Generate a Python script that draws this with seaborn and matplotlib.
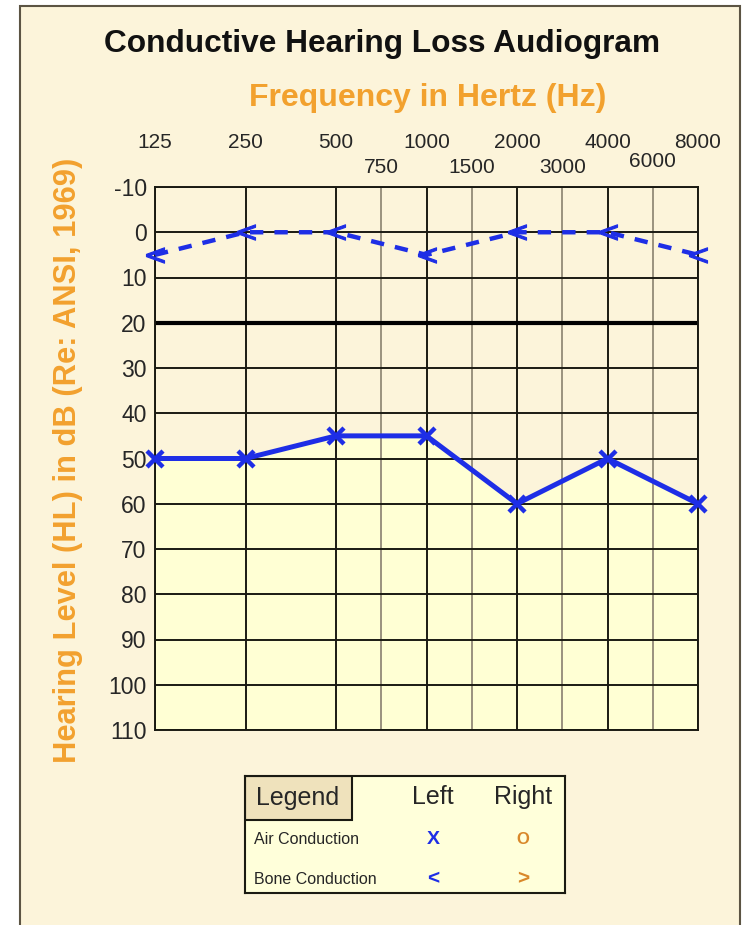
import numpy as np
import pandas as pd
import matplotlib
matplotlib.use('Agg')
import matplotlib.pyplot as plt
import matplotlib.transforms as transforms
from matplotlib.patches import Rectangle
import seaborn as sns

# audiogram data: left ear, positions are octave slots (125 Hz = 0)
octave_labels = ['125', '250', '500', '1000', '2000', '4000', '8000']
mid_labels = ['750', '1500', '3000', '6000']
octave_pos = [0, 1, 2, 3, 4, 5, 6]
mid_pos = [2.5, 3.5, 4.5, 5.5]
air_left = [50, 50, 45, 45, 60, 50, 60]
bone_left = [5, 0, 0, 5, 0, 0, 5]
db_ticks = list(range(-10, 111, 10))

cream = '#FCF4DA'
yellow = '#FFFFD4'
orange = '#F2A12E'
blue = '#1E2EE6'


def draw():
    sns.set_style('white')
    plt.rcParams['font.family'] = ['Liberation Sans', 'DejaVu Sans']

    df = pd.DataFrame({'pos': octave_pos, 'air': air_left, 'bone': bone_left})

    fig = plt.figure(figsize=(7.42, 9.25), dpi=100, facecolor='white')
    fig.patches.append(Rectangle((20 / 742, -0.05), 720 / 742, 1.05 - 6 / 925,
                                 transform=fig.transFigure, facecolor=cream,
                                 edgecolor='#5C5443', lw=1.5, zorder=-10))

    ax = fig.add_axes([155 / 742, 1 - 730 / 925, 543 / 742, 543 / 925])
    ax.set_zorder(2)
    ax.set_facecolor(cream)

    ax.fill_between(df['pos'], df['air'], 110, color=yellow, zorder=0.5, lw=0)

    # grid
    for p in octave_pos:
        ax.axvline(p, color='#1A1A12', lw=1.4, zorder=1)
    for p in mid_pos:
        ax.axvline(p, color='#9A927E', lw=1.4, zorder=1)
    for t in db_ticks:
        ax.axhline(t, color='#1A1A12', lw=1.4, zorder=1)
    ax.axhline(20, color='black', lw=3, zorder=1.2)

    sns.lineplot(data=df, x='pos', y='air', ax=ax, color=blue, lw=3.6,
                 marker='x', markersize=12, markeredgewidth=3.2,
                 markeredgecolor=blue, zorder=3, clip_on=False)
    sns.lineplot(data=df, x='pos', y='bone', ax=ax, color=blue, lw=3.2,
                 linestyle=(0, (3, 2.5)), marker='$<$', markersize=13,
                 markeredgewidth=0.8, markeredgecolor=blue, markerfacecolor=blue,
                 zorder=3, clip_on=False)

    ax.set_xlim(0, 6)
    ax.set_ylim(110, -10)
    ax.xaxis.tick_top()
    ax.set_xticks(octave_pos, octave_labels, fontsize=15)
    ax.set_xticks(mid_pos, mid_labels, minor=True, fontsize=15)
    ax.tick_params(axis='x', which='major', length=0, pad=25)
    ax.tick_params(axis='x', which='minor', length=0, pad=7)
    ax.set_yticks(db_ticks, [str(t) for t in db_ticks], fontsize=16.5)
    ax.tick_params(axis='y', length=0, pad=6)
    ax.set_xlabel('')
    ax.set_ylabel('')
    for s in ax.spines.values():
        s.set_color('#1A1A12')
        s.set_linewidth(1.4)

    # the 6000 label sits a little higher in the original
    lbl = ax.xaxis.get_minorticklabels()[-1]
    lbl.set_transform(lbl.get_transform() +
                      transforms.ScaledTranslation(0, 0.06, fig.dpi_scale_trans))

    fig.text(382 / 742, 1 - 44 / 925, 'Conductive Hearing Loss Audiogram',
             ha='center', va='center', fontsize=22.8, fontweight='bold', color='#111111')
    fig.text(428 / 742, 1 - 98 / 925, 'Frequency in Hertz (Hz)',
             ha='center', va='center', fontsize=23, fontweight='bold', color=orange)
    fig.text(68 / 742, 1 - 460 / 925, 'Hearing Level (HL) in dB (Re: ANSI, 1969)',
             ha='center', va='center', rotation=90, fontsize=22.2,
             fontweight='bold', color=orange)

    # legend box
    lg = fig.add_axes([245 / 742, 1 - 893 / 925, 320 / 742, 117 / 925])
    lg.set_zorder(2)
    lg.set_xlim(0, 320)
    lg.set_ylim(117, 0)
    lg.set_facecolor('#FFFFDA')
    lg.set_xticks([])
    lg.set_yticks([])
    for s in lg.spines.values():
        s.set_color('#1A1A12')
        s.set_linewidth(1.5)
    lg.add_patch(Rectangle((0, 0), 107, 44, facecolor='#EFE2BC',
                           edgecolor='#1A1A12', lw=1.5))
    lg.text(53, 22, 'Legend', ha='center', va='center', fontsize=18)
    lg.text(188, 21, 'Left', ha='center', va='center', fontsize=18)
    lg.text(278, 21, 'Right', ha='center', va='center', fontsize=18)
    lg.text(9, 64, 'Air Conduction', ha='left', va='center', fontsize=11.5)
    lg.text(9, 104, 'Bone Conduction', ha='left', va='center', fontsize=11.5)
    lg.text(188, 63, 'X', ha='center', va='center', fontsize=14,
            fontweight='bold', color=blue)
    lg.text(278, 63, 'O', ha='center', va='center', fontsize=12,
            fontweight='bold', color='#D9882A')
    lg.text(188, 103, '<', ha='center', va='center', fontsize=15,
            fontweight='bold', color=blue)
    lg.text(278, 103, '>', ha='center', va='center', fontsize=15,
            fontweight='bold', color='#D9882A')

    fig.savefig('out.png', dpi=100, facecolor=fig.get_facecolor())


def main():
    draw()


if __name__ == '__main__':
    main()
